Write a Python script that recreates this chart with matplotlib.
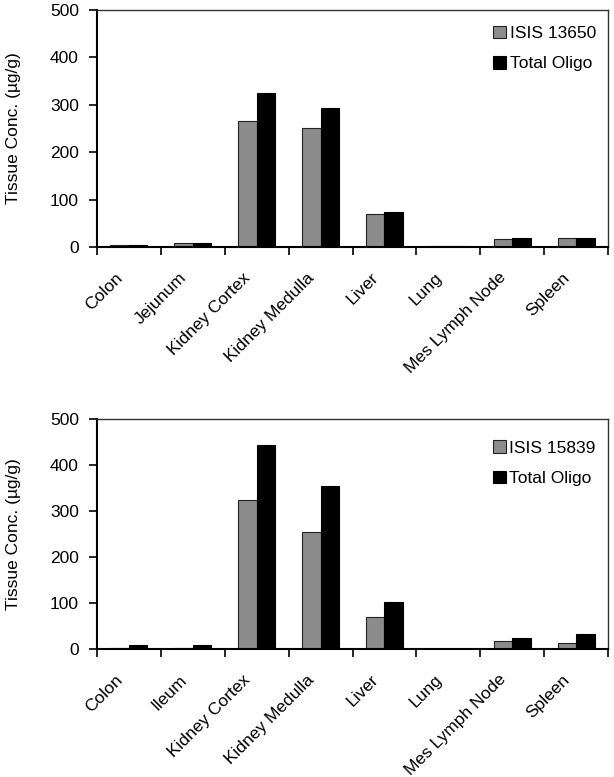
import numpy as np
import matplotlib
matplotlib.use("Agg")
import matplotlib.pyplot as plt
import matplotlib.transforms as mtransforms

plt.rcParams['font.family'] = ['Liberation Sans', 'DejaVu Sans']

cats_top = ["Colon", "Jejunum", "Kidney Cortex", "Kidney Medulla", "Liver", "Lung", "Mes Lymph Node", "Spleen"]
isis13650 = [5, 8, 265, 250, 70, 2, 17, 20]
total_top = [5, 8, 325, 293, 73, 2, 20, 20]

cats_bot = ["Colon", "Ileum", "Kidney Cortex", "Kidney Medulla", "Liver", "Lung", "Mes Lymph Node", "Spleen"]
isis15839 = [2, 2, 323, 255, 70, 1, 17, 14]
total_bot = [8, 8, 443, 355, 103, 1, 25, 33]

yticks = [0, 100, 200, 300, 400, 500]

fig = plt.figure(figsize=(6.14, 7.77), dpi=100)
ax1 = fig.add_axes([97/614, 1-247/777, 511/614, 237/777])
ax2 = fig.add_axes([97/614, 1-649/777, 511/614, 230/777])

gray = "#8c8c8c"
fs = 12.5

def draw(ax, cats, a, b, la, lb, leg_y):
    x = np.arange(len(cats))
    w = 0.29
    ax.bar(x - w/2, a, w, color=gray, edgecolor="#222222", linewidth=0.8, label=la)
    ax.bar(x + w/2, b, w, color="black", edgecolor="black", linewidth=0.8, label=lb)
    ax.set_xlim(-0.5, len(cats) - 0.5)
    ax.set_ylim(0, 500)
    ax.set_yticks(yticks)
    ax.set_yticklabels([str(t) for t in yticks], fontsize=fs)
    ax.set_xticks(x)
    ax.set_xticklabels(cats, rotation=45, ha='right', rotation_mode='anchor', fontsize=fs)
    ax.tick_params(axis='x', which='major', length=0, pad=16.5)
    off = mtransforms.ScaledTranslation(-14/100, 0, fig.dpi_scale_trans)
    for lab in ax.get_xticklabels():
        lab.set_transform(lab.get_transform() + off)
    ax.set_xticks(np.arange(len(cats) + 1) - 0.5, minor=True)
    ax.tick_params(axis='x', which='minor', length=6, width=1.2, direction='out')
    ax.tick_params(axis='y', length=6, width=1.2, direction='out', pad=7)
    for s in ['left', 'bottom']:
        ax.spines[s].set_linewidth(1.5)
    for s in ['top', 'right']:
        ax.spines[s].set_linewidth(1.0)
        ax.spines[s].set_color('#333333')
    ax.set_ylabel("Tissue Conc. (µg/g)", fontsize=fs)
    ax.yaxis.set_label_coords(-76/511, 0.5)
    ax.legend(loc='upper right', frameon=False, fontsize=fs, handlelength=0.75, handleheight=0.75,
              handletextpad=0.2, labelspacing=0.85, borderaxespad=0.3, bbox_to_anchor=(1.0, leg_y))

draw(ax1, cats_top, isis13650, total_top, "ISIS 13650", "Total Oligo", 0.985)
draw(ax2, cats_bot, isis15839, total_bot, "ISIS 15839", "Total Oligo", 0.96)

fig.savefig("out.png", dpi=100)
